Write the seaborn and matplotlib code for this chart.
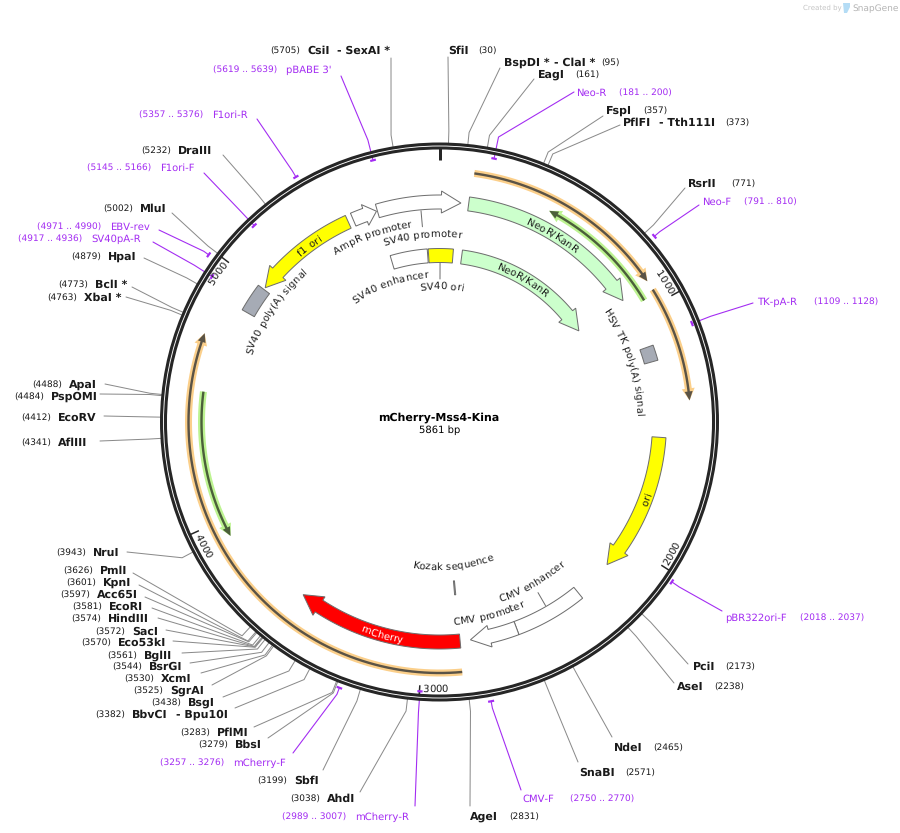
"""
Plasmid map of mCherry-Mss4-Kina drawn on a pixel-sized canvas.
"""

import numpy as np
import pandas as pd
import matplotlib
matplotlib.use("Agg")
import matplotlib.pyplot as plt
from matplotlib.font_manager import FontProperties
from matplotlib.patches import Circle, Polygon
from matplotlib.textpath import text_to_path
import seaborn as sns

PLASMID_NAME = "mCherry-Mss4-Kina"
PLASMID_BP = 5861

# restriction sites, clockwise
site_names = ["SfiI", "BspDI *", "EagI", "FspI", "PflFI", "RsrII", "PciI", "AseI", "NdeI", "SnaBI",
              "AgeI", "AhdI", "SbfI", "BbsI", "PflMI", "BbvCI", "BsgI", "SgrAI", "XcmI", "BsrGI",
              "BglII", "Eco53kI", "SacI", "HindIII", "EcoRI", "Acc65I", "KpnI", "PmlI", "NruI",
              "AflIII", "EcoRV", "PspOMI", "ApaI", "XbaI *", "BclI *", "HpaI", "MluI", "DraIII", "CsiI"]
site_bp = [30, 95, 161, 357, 373, 771, 2173, 2238, 2465, 2571,
           2831, 3038, 3199, 3279, 3283, 3382, 3438, 3525, 3530, 3544,
           3561, 3570, 3572, 3574, 3581, 3597, 3601, 3626, 3943,
           4341, 4412, 4484, 4488, 4763, 4773, 4879, 5002, 5232, 5705]
site_partners = {"BspDI *": "- ClaI *", "PflFI": "- Tth111I", "BbvCI": "- Bpu10I", "CsiI": "- SexAI *"}

# primers
primer_names = ["Neo-R", "Neo-F", "TK-pA-R", "pBR322ori-F", "CMV-F", "mCherry-R", "mCherry-F",
                "SV40pA-R", "EBV-rev", "F1ori-F", "F1ori-R", "pBABE 3'"]
primer_start = [181, 791, 1109, 2018, 2750, 2989, 3257, 4917, 4971, 5145, 5357, 5619]
primer_end = [200, 810, 1128, 2037, 2770, 3007, 3276, 4936, 4990, 5166, 5376, 5639]

# features: outer track, inner track, then the two thin tracks
outer_names = ["AmpR promoter", "SV40 promoter", "NeoR/KanR", "HSV TK poly(A) signal", "ori",
               "CMV enhancer", "CMV promoter", "mCherry", "f1 ori", "SV40 poly(A) signal"]
outer_start = [5485, 5594, 124, 1143, 1530, 2294, 2597, 2843, 5462, 4878]
outer_end = [5590, 5952, 920, 1208, 2123, 2597, 2799, 3554, 5008, 4999]
inner_names = ["SV40 enhancer", "SV40 ori", "NeoR/KanR", "Kozak sequence"]
inner_start = [5592, 5800, 124, 2843]
inner_end = [5795, 5936, 925, 2849]
orange_start = [130, 947, 2846]
orange_end = [910, 1385, 4733]
green_start = [965, 4515]
green_end = [447, 3930]
ruler_bp = [1000, 2000, 3000, 4000, 5000]

# label layout: number x, name x, text y, leader end x, leader end y
site_layout = [
    (478, 448, 50, 448, 57), (601, 504, 62, 500, 68), (575, 538, 74, 534, 79), (643, 606, 110, 603, 116),
    (725, 623, 122, 620, 125), (731, 688, 183, 685, 188), (725, 693, 666, 688, 664), (714, 677, 686, 674, 683),
    (653, 614, 747, 612, 737), (625, 579, 772, 578, 762), (509, 470, 816, 470, 806), (290, 327, 798, 360, 792),
    (257, 294, 780, 323, 770), (198, 235, 744, 268, 738), (180, 217, 732, 254, 727), (95, 132, 714, 235, 708),
    (151, 188, 702, 223, 697), (133, 170, 690, 212, 685), (124, 161, 678, 201, 673), (112, 149, 666, 190, 663),
    (107, 144, 655, 182, 653), (81, 118, 642, 173, 641), (95, 132, 631, 166, 630), (71, 108, 618, 158, 618),
    (72, 109, 606, 152, 608), (60, 97, 594, 145, 597), (66, 103, 582, 139, 585), (63, 100, 570, 133, 573),
    (56, 93, 552, 127, 552), (21, 58, 442, 100, 441), (21, 58, 417, 104, 416), (14, 51, 396, 100, 394),
    (32, 69, 384, 105, 384), (47, 84, 297, 126, 297), (58, 95, 284, 132, 287), (71, 108, 256, 144, 258),
    (103, 140, 208, 172, 213), (141, 178, 150, 223, 155), (270, 307, 50, 391, 58),
]
partner_x = {"BspDI *": 554, "PflFI": 659, "BbvCI": 176, "CsiI": 337}
# number x, name x, text y, leader end x, leader end y, bar radius
primer_layout = [
    (619, 576, 92, 574, 92, 269), (744, 702, 201, 699, 205, 284), (814, 757, 301, 753, 303, 271),
    (800, 725, 617, 722, 611, 282), (570, 522, 798, 521, 790, 284), (282, 355, 816, 415, 806, 270),
    (160, 233, 762, 293, 753, 284), (18, 91, 238, 153, 242, 270), (37, 110, 226, 159, 230, 285),
    (87, 160, 167, 204, 173, 270), (139, 212, 114, 257, 119, 284), (213, 286, 69, 341, 76, 270),
]

CX, CY = 439.5, 422.0
RING_R = 276.0
ELBOW_R = 291.0
OUTER_R = 220.0
INNER_R = 166.5
PX = 0.72  # points per pixel at dpi 100
PURPLE = "#A32CF2"
TEXT = "#1a1a1a"
EDGE = "#6e6e6e"


def bp_to_deg(bp):
    return 360.0 * bp / PLASMID_BP


def polar(deg, r):
    a = np.radians(deg)
    return CX + r * np.sin(a), CY - r * np.cos(a)


def arc_points(deg0, deg1, r, n=80):
    return np.column_stack(polar(np.linspace(deg0, deg1, n), r))


def arrow_polygon(bp0, bp1, r, half, head_half=None, head_len=19.5):
    """Outline of a curved band, with an arrow head at bp1 if head_half is given."""
    d0, d1 = bp_to_deg(bp0), bp_to_deg(bp1)
    if head_half is None:
        return np.vstack([arc_points(d0, d1, r + half), arc_points(d1, d0, r - half)])
    sign = 1 if d1 > d0 else -1
    base = d1 - sign * np.degrees(head_len / r)
    return np.vstack([
        arc_points(d0, base, r + half),
        polar(base, r + head_half), polar(d1, r), polar(base, r - head_half),
        arc_points(base, d0, r - half),
    ])


def text_width(s, prop):
    w_bar = text_to_path.get_text_width_height_descent("|", prop, False)[0]
    w = text_to_path.get_text_width_height_descent(s + "|", prop, False)[0]
    return (w - w_bar) / PX


def arc_text(ax, s, deg, r, size=7.4, color=TEXT, flip=False, weight="normal"):
    """Write s centred on angle deg with its baseline on a circle of radius r."""
    prop = FontProperties(family="DejaVu Sans", size=size, weight=weight)
    total = text_width(s, prop)
    for i, ch in enumerate(s):
        if ch == " ":
            continue
        mid = (text_width(s[:i], prop) + text_width(s[:i + 1], prop)) / 2 - total / 2
        a = deg - np.degrees(mid / r) if flip else deg + np.degrees(mid / r)
        x, y = polar(a, r)
        ax.text(x, y, ch, fontproperties=prop, color=color, ha="center", va="baseline",
                rotation=(180 - a) if flip else -a, rotation_mode="anchor", zorder=8)


def draw_thin_feature(ax, bp0, bp1, r, halo, core):
    ax.add_patch(Polygon(arrow_polygon(bp0, bp1, r, 3.5, 6.5, 12), fc=halo, ec="none", zorder=3))
    ax.add_patch(Polygon(arrow_polygon(bp0, bp1, r, 1.2, 4, 9), fc=core, ec="none", zorder=4))


def draw_label(ax, number, num_x, name, name_x, y, color):
    weight = "bold" if color == TEXT else "normal"
    name_size = 7.7 if color == TEXT else 7.3
    ax.text(num_x, y + 3.5, number, fontsize=6.6, color=color, va="baseline", ha="left")
    ax.text(name_x, y + 3.5, name, fontsize=name_size, color=color, va="baseline", ha="left", fontweight=weight)


sns.set_theme(style="white")
plt.rcParams["font.family"] = ["DejaVu Sans"]
plt.rcParams["text.hinting"] = "no_hinting"
plt.rcParams["text.hinting_factor"] = 1

fig = plt.figure(figsize=(9, 8.33), dpi=100)
ax = fig.add_axes([0, 0, 1, 1])

# Leader lines for the sites and the primers
site_rows = []
for name, bp, lay in zip(site_names, site_bp, site_layout):
    deg = bp_to_deg(bp)
    pts = [(lay[3], lay[4]), polar(deg, ELBOW_R), polar(deg, RING_R)]
    site_rows += [{"line": name, "x": x, "y": y} for x, y in pts]
sns.lineplot(data=pd.DataFrame(site_rows), x="x", y="y", units="line", estimator=None, sort=False,
             color="#8a8a8a", linewidth=1.0 * PX, ax=ax, zorder=1, legend=False)

primer_rows = []
for name, start, end, lay in zip(primer_names, primer_start, primer_end, primer_layout):
    deg = bp_to_deg((start + end) / 2)
    pts = [(lay[3], lay[4]), polar(deg, ELBOW_R), polar(deg, lay[5])]
    primer_rows += [{"line": name, "x": x, "y": y} for x, y in pts]
sns.lineplot(data=pd.DataFrame(primer_rows), x="x", y="y", units="line", estimator=None, sort=False,
             color=PURPLE, linewidth=1.1 * PX, ax=ax, zorder=1, legend=False)

for start, end, lay in zip(primer_start, primer_end, primer_layout):
    bar = arc_points(bp_to_deg(start), bp_to_deg(end), lay[5], 8)
    ax.plot(bar[:, 0], bar[:, 1], color=PURPLE, linewidth=2.2 * PX, solid_capstyle="butt", zorder=7)

# Backbone ring
ax.add_patch(Circle((CX, CY), RING_R, fc="none", ec="#262626", lw=7.0 * PX, zorder=5))
ax.add_patch(Circle((CX, CY), RING_R, fc="none", ec="white", lw=0.9 * PX, zorder=6))

# Ruler ticks and numbers
ax.plot(*zip(polar(0, 262), polar(0, 274)), color="#262626", lw=3 * PX, solid_capstyle="butt", zorder=5)
ruler_offset = [-3.3, -3.3, -3.4, -3.4, -3.3]
ruler_flip = [False, True, True, True, False]
ruler_r = [262, 270, 270, 270, 264]
for bp, off, flip, r in zip(ruler_bp, ruler_offset, ruler_flip, ruler_r):
    deg = bp_to_deg(bp)
    ax.plot(*zip(polar(deg, 264), polar(deg, 274)), color="#262626", lw=1.5 * PX, solid_capstyle="butt", zorder=5)
    arc_text(ax, str(bp), deg + off, r, size=7.2, flip=flip)

# Thin tracks
for start, end in zip(orange_start, orange_end):
    draw_thin_feature(ax, start, end, 251.0, "#FBCF8A", "#5A5346")
for start, end in zip(green_start, green_end):
    draw_thin_feature(ax, start, end, 238.0, "#BDF391", "#4B5F3A")

# Outer track features
outer_fill = ["white", "white", "#CCFFCC", "#A6ABB5", "#FFFF00", "white", "white", "#FF0000", "#FFFF00", "#A6ABB5"]
outer_head = [12, 19.5, 19.5, None, 19.5, None, 19.5, 19.5, 19.5, None]
for start, end, fill, head in zip(outer_start, outer_end, outer_fill, outer_head):
    if head is None:
        verts = arrow_polygon(start, end, OUTER_R, 7)
    else:
        verts = arrow_polygon(start, end, OUTER_R, 7, 11, head)
    ax.add_patch(Polygon(verts, fc=fill, ec=EDGE, lw=1.0 * PX, joinstyle="miter", zorder=3))

# Inner track features
inner_fill = ["white", "#FFFF00", "#CCFFCC", "white"]
inner_head = [None, None, 19.5, None]
for start, end, fill, head in zip(inner_start, inner_end, inner_fill, inner_head):
    if head is None:
        verts = arrow_polygon(start, end, INNER_R, 7)
    else:
        verts = arrow_polygon(start, end, INNER_R, 7, 11, head)
    ax.add_patch(Polygon(verts, fc=fill, ec=EDGE, lw=1.0 * PX, joinstyle="miter", zorder=3))

# Small connector lines from features to their names
for deg, r0, r1 in [(-5.0, 196, 212), (150.0, 197, 212), (0.2, 143, 159)]:
    ax.plot(*zip(polar(deg, r0), polar(deg, r1)), color=EDGE, lw=1.0 * PX, zorder=3)

# Feature names: angle, baseline radius, flipped
feature_text = [
    ("AmpR promoter", -20.0, 197, False, TEXT),
    ("SV40 promoter", -5.4, 185, False, TEXT),
    ("SV40 enhancer", -20.0, 145, False, TEXT),
    ("SV40 ori", 0.9, 133, False, TEXT),
    ("NeoR/KanR", 31.0, 216, False, TEXT),
    ("NeoR/KanR", 30.2, 163, False, TEXT),
    ("f1 ori", 323.5, 216, False, TEXT),
    ("SV40 poly(A) signal", -56.0, 199, False, TEXT),
    ("HSV TK poly(A) signal", 72.0, 197, False, TEXT),
    ("ori", 110.5, 224, True, TEXT),
    ("CMV enhancer", 150.0, 190, True, TEXT),
    ("CMV promoter", 165.7, 203, True, TEXT),
    ("Kozak sequence", 174.5, 148, True, TEXT),
    ("mCherry", 195.2, 224, True, "white"),
]
for label, deg, r, flip, color in feature_text:
    arc_text(ax, label, deg, r, flip=flip, color=color)

# Site and primer labels
for name, bp, lay in zip(site_names, site_bp, site_layout):
    draw_label(ax, f"({bp})", lay[0], name, lay[1], lay[2], TEXT)
    if name in site_partners:
        ax.text(partner_x[name], lay[2] + 3.5, site_partners[name], fontsize=7.7, color=TEXT,
                fontweight="bold", va="baseline", ha="left")
for name, start, end, lay in zip(primer_names, primer_start, primer_end, primer_layout):
    draw_label(ax, f"({start} .. {end})", lay[0], name, lay[1], lay[2], PURPLE)

# Centre title
ax.text(CX - 1, 421, PLASMID_NAME, fontsize=8.0, fontweight="bold", color="black", ha="center", va="baseline")
ax.text(CX, 433, f"{PLASMID_BP} bp", fontsize=7.5, color="black", ha="center", va="baseline")

# Watermark
ax.text(803, 10, "Created by", fontsize=5, color="#c4c4c4", va="baseline", ha="left")
ax.add_patch(Polygon([(843, 3), (850, 3), (850, 7), (847, 13), (844, 13)], fc="#B4DCF5", ec="none"))
ax.text(852, 11, "SnapGene", fontsize=6.3, color="#b4b4b4", va="baseline", ha="left")

ax.set_xlim(0, 900)
ax.set_ylim(833, 0)
ax.set_xlabel("")
ax.set_ylabel("")
ax.axis("off")

fig.savefig("out.png", dpi=100, facecolor="white")
plt.close(fig)
